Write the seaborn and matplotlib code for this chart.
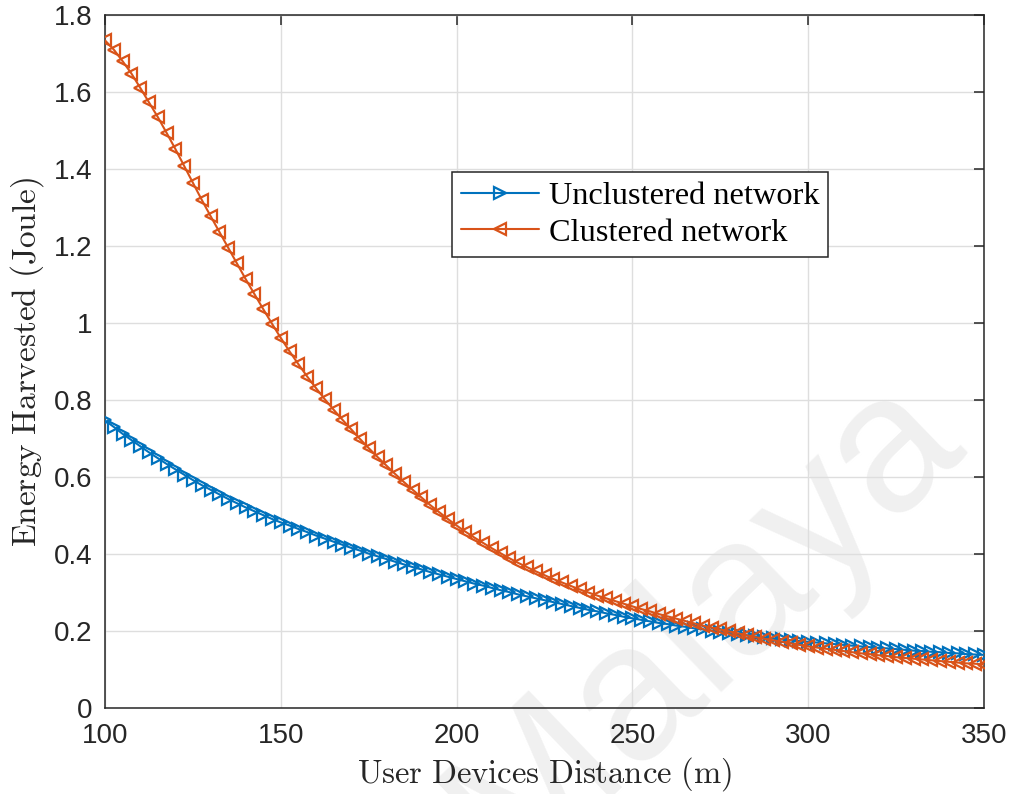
import numpy as np
import pandas as pd
import matplotlib
matplotlib.use("Agg")
import matplotlib.pyplot as plt
import seaborn as sns

# Distance grid (m) and harvested energy (J) for both network layouts
distance = np.arange(100, 352.5, 2.5)

unclustered = [
    0.747, 0.730, 0.712, 0.696, 0.680, 0.664, 0.649, 0.634, 0.620, 0.606, 0.592,
    0.579, 0.567, 0.555, 0.543, 0.532, 0.521, 0.511, 0.501, 0.491, 0.482,
    0.474, 0.465, 0.457, 0.448, 0.440, 0.432, 0.424, 0.416, 0.409, 0.401,
    0.394, 0.387, 0.380, 0.373, 0.366, 0.360, 0.353, 0.347, 0.341, 0.335,
    0.329, 0.323, 0.318, 0.312, 0.306, 0.301, 0.295, 0.290, 0.285, 0.280,
    0.275, 0.270, 0.265, 0.260, 0.255, 0.251, 0.246, 0.242, 0.237, 0.233,
    0.229, 0.225, 0.221, 0.218, 0.214, 0.211, 0.207, 0.204, 0.201, 0.198,
    0.195, 0.192, 0.189, 0.186, 0.184, 0.181, 0.179, 0.176, 0.174, 0.172,
    0.170, 0.168, 0.166, 0.164, 0.162, 0.160, 0.158, 0.156, 0.155, 0.153,
    0.151, 0.149, 0.148, 0.146, 0.145, 0.143, 0.142, 0.140, 0.139, 0.138,
]

clustered = [
    1.734, 1.710, 1.680, 1.648, 1.611, 1.573, 1.535, 1.494, 1.452, 1.408, 1.364,
    1.320, 1.278, 1.237, 1.196, 1.155, 1.114, 1.075, 1.036, 0.998, 0.961,
    0.926, 0.893, 0.861, 0.831, 0.802, 0.775, 0.749, 0.724, 0.699, 0.675,
    0.652, 0.630, 0.608, 0.587, 0.567, 0.547, 0.527, 0.509, 0.491, 0.474,
    0.458, 0.443, 0.429, 0.415, 0.402, 0.389, 0.377, 0.366, 0.355, 0.345,
    0.335, 0.326, 0.317, 0.308, 0.300, 0.292, 0.285, 0.278, 0.271, 0.264,
    0.257, 0.251, 0.244, 0.238, 0.232, 0.226, 0.220, 0.214, 0.209, 0.204,
    0.199, 0.194, 0.189, 0.184, 0.180, 0.176, 0.172, 0.168, 0.164, 0.160,
    0.157, 0.154, 0.151, 0.148, 0.145, 0.142, 0.140, 0.137, 0.135, 0.132,
    0.130, 0.128, 0.126, 0.124, 0.122, 0.120, 0.118, 0.116, 0.115, 0.113,
]

series_names = ["Unclustered network", "Clustered network"]
x_ticks = [100, 150, 200, 250, 300, 350]
y_ticks = [0, 0.2, 0.4, 0.6, 0.8, 1.0, 1.2, 1.4, 1.6, 1.8]
y_tick_labels = ["0", "0.2", "0.4", "0.6", "0.8", "1", "1.2", "1.4", "1.6", "1.8"]

sns.set_style("white")
plt.rcParams["font.family"] = ["Liberation Sans", "DejaVu Sans"]
plt.rcParams["mathtext.fontset"] = "cm"

BLUE = "#0072BD"
ORANGE = "#D95319"
EDGE = "#262626"

df = pd.DataFrame({
    "distance": np.concatenate([distance, distance]),
    "energy": np.concatenate([unclustered, clustered]),
    "network": [series_names[0]] * len(distance) + [series_names[1]] * len(distance),
})

fig = plt.figure(figsize=(10.12, 7.94), dpi=100, facecolor="white")
ax = fig.add_axes([0.1038, 0.1083, 0.8685, 0.8728])
ax.set_facecolor("none")

# faint background watermark
fig.text(0.695, 0.215, "Malaya", fontsize=140, color="#f0f0f0",
         rotation=44, ha="center", va="center", zorder=-5,
         family="Liberation Sans")

for name, color, mk in [(series_names[0], BLUE, ">"), (series_names[1], ORANGE, "<")]:
    sub = df[df["network"] == name]
    sns.lineplot(data=sub, x="distance", y="energy", ax=ax, color=color,
                 linewidth=1.5, marker=mk, markersize=9,
                 markerfacecolor="none", markeredgecolor=color,
                 markeredgewidth=1.6, label=name, zorder=3)

ax.set_xlim(100, 350)
ax.set_ylim(0, 1.8)
ax.set_xticks(x_ticks)
ax.set_yticks(y_ticks)
ax.set_yticklabels(y_tick_labels)

ax.grid(True, color="#dedede", linewidth=1.0, zorder=0)
ax.set_axisbelow(True)

for s in ax.spines.values():
    s.set_visible(True)
    s.set_color(EDGE)
    s.set_linewidth(1.1)

ax.tick_params(axis="both", which="both", direction="in", length=7, width=1.1,
               color=EDGE, top=True, right=True, labelsize=20,
               labelcolor="#262626")
ax.tick_params(axis="x", pad=11)
ax.tick_params(axis="y", pad=9)

ax.set_xlabel(r"$\mathrm{User\ Devices\ Distance\ (m)}$", fontsize=23.5,
              color="#262626", labelpad=4)
ax.set_ylabel(r"$\mathrm{Energy\ Harvested\ (Joule)}$", fontsize=24,
              color="#262626", labelpad=6)

leg = ax.legend(loc="upper left", bbox_to_anchor=(0.395, 0.773),
                borderaxespad=0, frameon=True, fancybox=False, framealpha=1,
                edgecolor=EDGE, handlelength=2.4, handletextpad=0.3,
                borderpad=0.28, labelspacing=0.22,
                prop={"family": "Liberation Serif", "size": 23.3})
leg.get_frame().set_linewidth(1.1)
for t in leg.get_texts():
    t.set_color("black")

fig.savefig("out.png", dpi=100, facecolor="white")
